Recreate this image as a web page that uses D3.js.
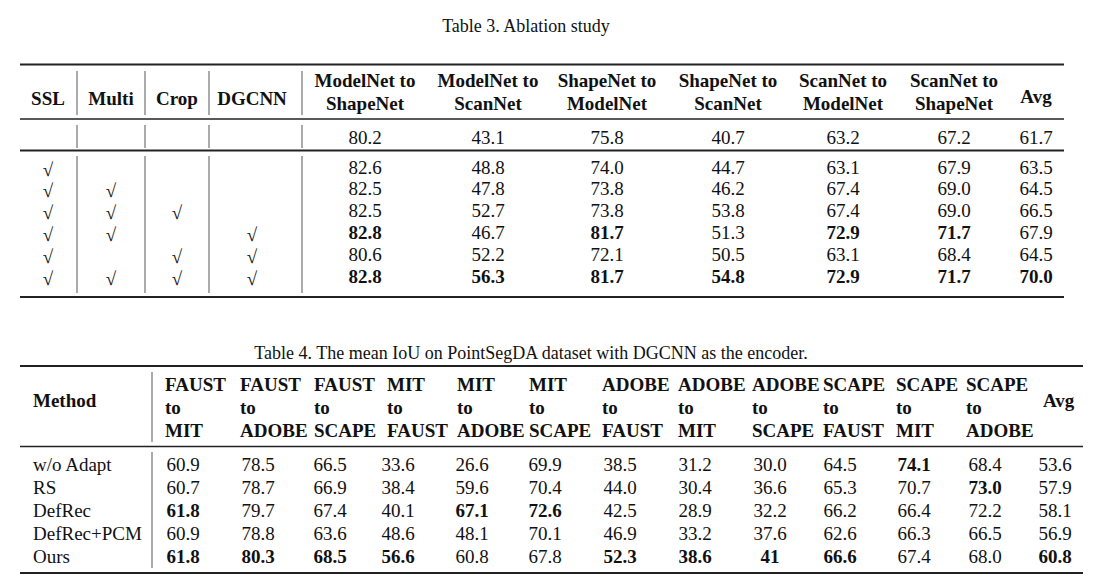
<!DOCTYPE html>
<html><head><meta charset="utf-8">
<script src="https://cdn.jsdelivr.net/npm/d3@7"></script>
<style>
body{margin:0;background:#fff}
svg{display:block}
text{font-family:"Liberation Serif","Times New Roman",serif;fill:#111}
</style>
</head><body><svg id="c" width="1104" height="584"></svg>
<script>
// ---------- data ----------
const t3Caption = "Table 3. Ablation study";
const t3Flags = ["SSL","Multi","Crop","DGCNN"];
const t3Tasks = [["ModelNet to","ShapeNet"],["ModelNet to","ScanNet"],["ShapeNet to","ModelNet"],["ShapeNet to","ScanNet"],["ScanNet to","ModelNet"],["ScanNet to","ShapeNet"],["Avg"]];
const t3Baseline = ["80.2","43.1","75.8","40.7","63.2","67.2","61.7"];
const t3Checks = [[1,0,0,0],[1,1,0,0],[1,1,1,0],[1,1,0,1],[1,0,1,1],[1,1,1,1]];
const t3Values = [
 ["82.6","48.8","74.0","44.7","63.1","67.9","63.5"],
 ["82.5","47.8","73.8","46.2","67.4","69.0","64.5"],
 ["82.5","52.7","73.8","53.8","67.4","69.0","66.5"],
 ["82.8","46.7","81.7","51.3","72.9","71.7","67.9"],
 ["80.6","52.2","72.1","50.5","63.1","68.4","64.5"],
 ["82.8","56.3","81.7","54.8","72.9","71.7","70.0"]];

const t4Caption = "Table 4. The mean IoU on PointSegDA dataset with DGCNN as the encoder.";
const t4Tasks = [["FAUST","to","MIT"],["FAUST","to","ADOBE"],["FAUST","to","SCAPE"],["MIT","to","FAUST"],["MIT","to","ADOBE"],["MIT","to","SCAPE"],["ADOBE","to","FAUST"],["ADOBE","to","MIT"],["ADOBE","to","SCAPE"],["SCAPE","to","FAUST"],["SCAPE","to","MIT"],["SCAPE","to","ADOBE"],["Avg"]];
const t4Methods = ["w/o Adapt","RS","DefRec","DefRec+PCM","Ours"];
const t4Values = [
 ["60.9","78.5","66.5","33.6","26.6","69.9","38.5","31.2","30.0","64.5","74.1","68.4","53.6"],
 ["60.7","78.7","66.9","38.4","59.6","70.4","44.0","30.4","36.6","65.3","70.7","73.0","57.9"],
 ["61.8","79.7","67.4","40.1","67.1","72.6","42.5","28.9","32.2","66.2","66.4","72.2","58.1"],
 ["60.9","78.8","63.6","48.6","48.1","70.1","46.9","33.2","37.6","62.6","66.3","66.5","56.9"],
 ["61.8","80.3","68.5","56.6","60.8","67.8","52.3","38.6","41","66.6","67.4","68.0","60.8"]];

// ---------- drawing ----------
const svg = d3.select("#c");
const FS = 19;
const colMax = rows => rows[0].map((_, j) => d3.max(rows, r => +r[j]));

function hline(x1, x2, y, w, col) {
  svg.append("line").attr("x1", x1).attr("x2", x2).attr("y1", y).attr("y2", y)
    .attr("stroke", col || "#222").attr("stroke-width", w);
}
function vline(x, y1, y2) {
  svg.append("line").attr("x1", x).attr("x2", x).attr("y1", y1).attr("y2", y2)
    .attr("stroke", "#666").attr("stroke-width", 1.1);
}

// ===== Table 3 =====
svg.append("text").attr("x", 526).attr("y", 32).attr("text-anchor", "middle")
  .attr("font-size", 18).text(t3Caption);

const t3FlagX = d3.scaleOrdinal().domain(t3Flags).range([48, 111, 177, 252]);
const t3TaskX = d3.scaleOrdinal().domain(d3.range(t3Tasks.length)).range([365, 488, 607, 728, 843, 954, 1036]);
const t3Sep = d3.scaleOrdinal().domain(t3Flags).range([77, 145, 209, 302]);
const t3Row = d3.scalePoint().domain(d3.range(t3Values.length)).range([173.5, 282.5]);

hline(20, 1064, 64.5, 2);
hline(20, 1064, 119, 1.4);
hline(20, 1064, 150.5, 1.8);
hline(20, 1064, 297, 2);

t3Flags.forEach(f => {
  svg.append("text").attr("x", t3FlagX(f)).attr("y", 104.5).attr("text-anchor", "middle")
    .attr("font-size", FS).attr("font-weight", "bold").text(f);
  vline(t3Sep(f), 71, 115);
  vline(t3Sep(f), 125, 148);
  vline(t3Sep(f), 156, 293);
});

t3Tasks.forEach((lines, j) => {
  const t = svg.append("text").attr("text-anchor", "middle").attr("font-size", FS).attr("font-weight", "bold");
  if (lines.length === 1) {
    t.attr("x", t3TaskX(j)).attr("y", 103).text(lines[0]);
  } else {
    lines.forEach((l, k) => t.append("tspan").attr("x", t3TaskX(j)).attr("y", 87 + k * 23).text(l));
  }
});

t3Baseline.forEach((v, j) => {
  svg.append("text").attr("x", t3TaskX(j)).attr("y", 143.5).attr("text-anchor", "middle")
    .attr("font-size", FS).text(v);
});

const t3Max = colMax(t3Values);
t3Values.forEach((row, i) => {
  row.forEach((v, j) => {
    svg.append("text").attr("x", t3TaskX(j)).attr("y", t3Row(i)).attr("text-anchor", "middle")
      .attr("font-size", FS).attr("font-weight", +v === t3Max[j] ? "bold" : "normal").text(v);
  });
  t3Checks[i].forEach((c, k) => {
    if (c) svg.append("text").attr("x", t3FlagX(t3Flags[k])).attr("y", t3Row(i) + 2)
      .attr("text-anchor", "middle").attr("font-size", 19).text("\u221A");
  });
});

// ===== Table 4 =====
svg.append("text").attr("x", 531).attr("y", 359).attr("text-anchor", "middle")
  .attr("font-size", 18).text(t4Caption);

const t4X = d3.scaleOrdinal().domain(d3.range(t4Tasks.length))
  .range([183, 258, 330, 398, 472, 545, 620, 695, 770, 840, 914, 985, 1055]);
const t4HeadX = d3.scaleOrdinal().domain(d3.range(t4Tasks.length))
  .range([165, 240, 314, 387, 457, 529, 602, 678, 752, 823, 896, 966, 1043]);
const t4Row = d3.scalePoint().domain(d3.range(t4Methods.length)).range([471, 563]);

hline(20, 1083, 366, 2);
hline(20, 1083, 446.5, 1.4);
hline(20, 1083, 573, 2);
vline(152, 372, 442);
vline(152, 452, 568);

svg.append("text").attr("x", 33).attr("y", 407).attr("font-size", FS).attr("font-weight", "bold").text("Method");

t4Tasks.forEach((lines, j) => {
  const t = svg.append("text").attr("font-size", FS).attr("font-weight", "bold");
  if (lines.length === 1) {
    t.attr("x", t4HeadX(j)).attr("y", 407).text(lines[0]);
  } else {
    lines.forEach((l, k) => t.append("tspan").attr("x", t4HeadX(j)).attr("y", 391 + k * 23).text(l));
  }
});

const t4Max = colMax(t4Values);
t4Methods.forEach((m, i) => {
  svg.append("text").attr("x", 33).attr("y", t4Row(i)).attr("font-size", FS).text(m);
  t4Values[i].forEach((v, j) => {
    svg.append("text").attr("x", t4X(j)).attr("y", t4Row(i)).attr("text-anchor", "middle")
      .attr("font-size", FS).attr("font-weight", +v === t4Max[j] ? "bold" : "normal").text(v);
  });
});
</script>
</body></html>
